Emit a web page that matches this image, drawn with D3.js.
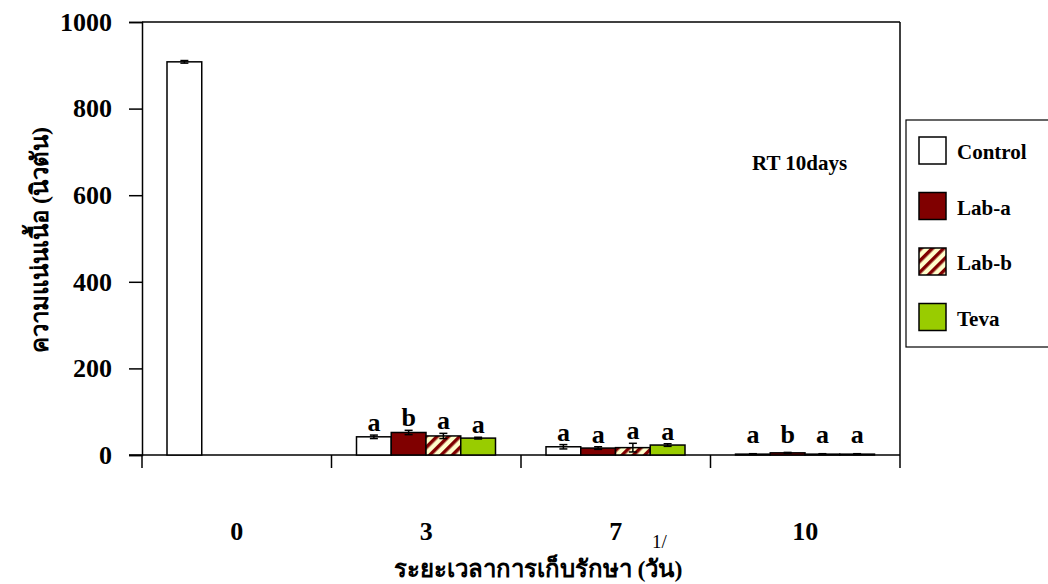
<!DOCTYPE html>
<html>
<head>
<meta charset="utf-8">
<script src="https://cdn.jsdelivr.net/npm/d3@7"></script>
<style>
  body { margin: 0; background: #fff; }
  svg { font-family: "Liberation Serif", "Times New Roman", serif; font-weight: bold; }
</style>
</head>
<body>
<script>
// storage days and treatments
const days = ["0", "3", "7", "10"];
const treatments = ["Control", "Lab-a", "Lab-b", "Teva"];

// firmness (N) means and error per treatment, by day
const controlMean = [908, 42, 19, 2];
const labAMean = [null, 52, 16, 5];
const labBMean = [null, 44, 17, 2];
const tevaMean = [null, 39, 23, 2];

const controlErr = [3, 4, 5, 1];
const labAErr = [null, 5, 3, 1];
const labBErr = [null, 6, 10, 1];
const tevaErr = [null, 2, 3, 1];

// significance letters per day (day 0 has none)
const letters = [null, ["a", "b", "a", "a"], ["a", "a", "a", "a"], ["a", "b", "a", "a"]];

const yTicks = [0, 200, 400, 600, 800, 1000];

function main() {
  const width = 1048, height = 584;
  const means = [controlMean, labAMean, labBMean, tevaMean];
  const errs = [controlErr, labAErr, labBErr, tevaErr];

  const rows = [];
  days.forEach((d, i) => treatments.forEach((t, j) => {
    if (means[j][i] != null) rows.push({day: d, t: t, v: means[j][i], e: errs[j][i],
      letter: letters[i] ? letters[i][j] : null});
  }));

  const svg = d3.select("body").append("svg")
    .attr("width", width).attr("height", height);

  const defs = svg.append("defs");
  const pat = defs.append("pattern")
    .attr("id", "hatch")
    .attr("patternUnits", "userSpaceOnUse")
    .attr("width", 8).attr("height", 8)
    .attr("patternTransform", "rotate(45)");
  pat.append("rect").attr("width", 8).attr("height", 8).attr("fill", "#ffffcc");
  pat.append("rect").attr("width", 3.5).attr("height", 8).attr("fill", "#800000");

  const colors = {"Control": "#ffffff", "Lab-a": "#800000", "Lab-b": "url(#hatch)", "Teva": "#99cc00"};

  const x = d3.scaleBand().domain(days).range([142, 900]);
  const xs = d3.scaleBand().domain(treatments).range([25, 164]);
  const y = d3.scaleLinear().domain([0, 1000]).range([455, 22]);

  // frame
  svg.append("line").attr("x1", 142).attr("x2", 900).attr("y1", 22).attr("y2", 22)
    .attr("stroke", "#000").attr("stroke-width", 1.5);
  svg.append("line").attr("x1", 900).attr("x2", 900).attr("y1", 22).attr("y2", 455)
    .attr("stroke", "#000").attr("stroke-width", 1.5);

  // y axis
  const yAxis = svg.append("g")
    .attr("transform", "translate(142,0)")
    .call(d3.axisLeft(y).tickValues(yTicks).tickFormat(d3.format("d")).tickSize(13).tickPadding(17));
  yAxis.select(".domain").attr("stroke-width", 1.5);
  yAxis.selectAll(".tick line").attr("stroke-width", 1.5);
  yAxis.selectAll("text")
    .attr("font-size", 26).attr("font-weight", "bold")
    .attr("font-family", "Liberation Serif, serif").attr("fill", "#000");

  // x axis: ticks at category boundaries
  const xAxis = svg.append("g").attr("transform", "translate(0,455)");
  xAxis.append("line").attr("x1", 129).attr("x2", 900).attr("y1", 0).attr("y2", 0)
    .attr("stroke", "#000").attr("stroke-width", 1.5);
  const bounds = days.map(d => x(d)).concat([x.range()[1]]);
  xAxis.selectAll(".xt").data(bounds).join("line")
    .attr("x1", d => d).attr("x2", d => d).attr("y1", 0).attr("y2", 13)
    .attr("stroke", "#000").attr("stroke-width", 1.5);
  svg.append("g").selectAll("text").data(days).join("text")
    .attr("x", d => x(d) + x.bandwidth() / 2)
    .attr("y", 540)
    .attr("text-anchor", "middle")
    .attr("font-size", 26)
    .text(d => d);

  // bars
  svg.append("g").selectAll("rect").data(rows).join("rect")
    .attr("x", d => x(d.day) + xs(d.t))
    .attr("y", d => y(d.v))
    .attr("width", xs.bandwidth())
    .attr("height", d => y(0) - y(d.v))
    .attr("fill", d => colors[d.t])
    .attr("stroke", "#000")
    .attr("stroke-width", 1.5);

  // error bars
  const eb = svg.append("g").attr("stroke", "#000").attr("stroke-width", 1.5);
  rows.forEach(d => {
    const cx = x(d.day) + xs(d.t) + xs.bandwidth() / 2;
    const y1 = y(d.v + d.e), y2 = y(Math.max(0, d.v - d.e));
    eb.append("line").attr("x1", cx).attr("x2", cx).attr("y1", y1).attr("y2", y2);
    eb.append("line").attr("x1", cx - 4).attr("x2", cx + 4).attr("y1", y1).attr("y2", y1);
    eb.append("line").attr("x1", cx - 4).attr("x2", cx + 4).attr("y1", y2).attr("y2", y2);
  });

  // significance letters
  svg.append("g").selectAll("text").data(rows.filter(d => d.letter)).join("text")
    .attr("x", d => x(d.day) + xs(d.t) + xs.bandwidth() / 2)
    .attr("y", d => Math.min(y(d.v + d.e) - 4, 443))
    .attr("text-anchor", "middle")
    .attr("font-size", 26)
    .text(d => d.letter);

  svg.append("text")
    .attr("x", 752).attr("y", 170)
    .attr("font-size", 21)
    .text("RT 10days");

  // legend
  const lg = svg.append("g");
  lg.append("rect").attr("x", 906).attr("y", 120).attr("width", 160).attr("height", 227)
    .attr("fill", "#fff").attr("stroke", "#000").attr("stroke-width", 1.2);
  const li = lg.selectAll("g").data(treatments).join("g")
    .attr("transform", (d, i) => `translate(919,${137 + i * 55.5})`);
  li.append("rect").attr("width", 27).attr("height", 27)
    .attr("fill", d => colors[d]).attr("stroke", "#000").attr("stroke-width", 1.5);
  li.append("text").attr("x", 38).attr("y", 22)
    .attr("font-size", 21).text(d => d);

  // axis titles
  svg.append("text")
    .attr("transform", "translate(48,240) rotate(-90)")
    .attr("text-anchor", "middle")
    .attr("font-size", 24)
    .text("ความแน่นเนื้อ (นิวตัน)");
  svg.append("text")
    .attr("x", 538).attr("y", 577)
    .attr("text-anchor", "middle")
    .attr("font-size", 24)
    .text("ระยะเวลาการเก็บรักษา (วัน)");
  svg.append("text")
    .attr("x", 652).attr("y", 548)
    .attr("font-size", 19).attr("font-weight", "normal")
    .text("1/");
}

window.addEventListener("load", main);
</script>
</body>
</html>
